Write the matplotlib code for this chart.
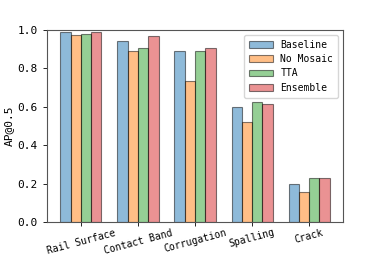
import numpy as np
import matplotlib
matplotlib.use("Agg")
import matplotlib.pyplot as plt

plt.rcParams['font.family'] = ['DejaVu Sans Mono', 'DejaVu Sans']

categories = ["Rail Surface", "Contact Band", "Corrugation", "Spalling", "Crack"]
baseline = [0.988, 0.944, 0.892, 0.597, 0.198]
no_mosaic = [0.972, 0.891, 0.733, 0.519, 0.156]
tta = [0.977, 0.905, 0.889, 0.623, 0.228]
ensemble = [0.988, 0.969, 0.905, 0.615, 0.229]

series = [("Baseline", baseline, "tab:blue"),
          ("No Mosaic", no_mosaic, "tab:orange"),
          ("TTA", tta, "tab:green"),
          ("Ensemble", ensemble, "tab:red")]

fig = plt.figure(figsize=(3.82, 2.54), dpi=100)
ax = fig.add_axes([0.123, 0.126, 0.775, 0.756])

x = np.arange(len(categories))
width = 0.18
for i, (name, vals, c) in enumerate(series):
    ax.bar(x + (i - 1.5) * width, vals, width, label=name, color=c,
           edgecolor="black", linewidth=0.8, alpha=0.5)

ax.set_ylim(0, 1.0)
ax.set_yticks([0, 0.2, 0.4, 0.6, 0.8, 1.0])
ax.set_yticklabels(["0.0", "0.2", "0.4", "0.6", "0.8", "1.0"], fontsize=8)
ax.set_xticks(x)
ax.set_xticklabels(categories, rotation=15, fontsize=7)
ax.set_ylabel("AP@0.5", fontsize=8, labelpad=3)
ax.tick_params(length=3, width=0.6)
ax.tick_params(axis="x", pad=1)
for s in ax.spines.values():
    s.set_linewidth(0.8)
    s.set_color("#555555")
ax.legend(fontsize=7, loc="upper right", handlelength=2.4, labelspacing=0.45,
          borderpad=0.5)

fig.savefig("out.png", dpi=100)
